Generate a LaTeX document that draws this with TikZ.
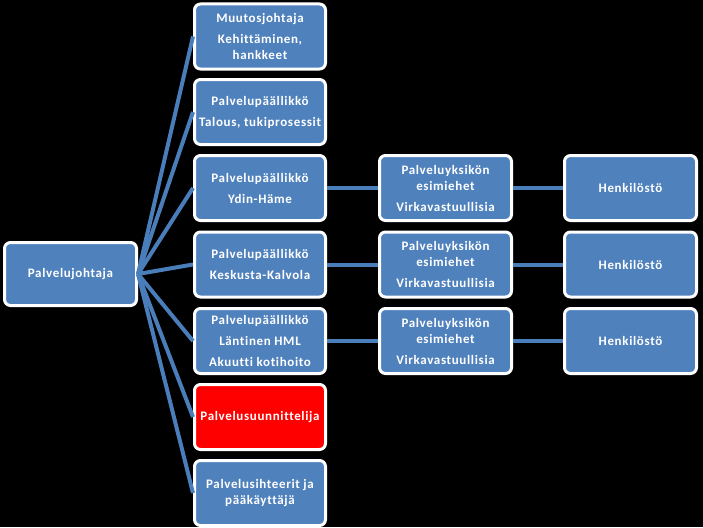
\documentclass[tikz,border=0pt]{standalone}
\usepackage{fontspec}
\setmainfont{Carlito}[Ligatures=NoCommon]
\begin{document}
\begin{tikzpicture}[x=1pt,y=-1pt,
  box/.style={draw=white,line width=3pt,fill=boxblue,rounded corners=6pt,
    minimum width=131pt,minimum height=65pt,align=center,text=white,
    font=\bfseries\fontsize{13}{16}\selectfont\addfontfeature{LetterSpace=5},inner sep=2pt},
  link/.style={draw=lineblue,line width=4pt}]
\definecolor{boxblue}{HTML}{4F81BD}
\definecolor{lineblue}{HTML}{4A7EBB}
\fill[black] (0,0) rectangle (703,527);
\useasboundingbox (0,0) rectangle (703,527);

\node[box,minimum width=132pt,minimum height=63pt] (johtaja) at (70.5,274) {Palvelujohtaja};

\node[box] (muutos) at (260,36.5) {Muutosjohtaja\\[5pt]Kehittäminen,\\hankkeet};
\node[box] (talous) at (260,112) {Palvelupäällikkö\\[5pt]Talous, tukiprosessit};
\node[box] (ydin) at (260,188) {Palvelupäällikkö\\[5pt]Ydin-Häme};
\node[box] (keskusta) at (260,264.5) {Palvelupäällikkö\\[5pt]Keskusta-Kalvola};
\node[box] (lantinen) at (260,341) {Palvelupäällikkö\\[5pt]Läntinen HML\\[5pt]Akuutti kotihoito};
\node[box,fill=red] (suunnittelija) at (260,417) {Palvelusuunnittelija};
\node[box] (sihteerit) at (260,493) {Palvelusihteerit ja\\pääkäyttäjä};

\node[box,minimum width=132pt] (esim1) at (445.5,188) {Palveluyksikön\\esimiehet\\[5pt]Virkavastuullisia};
\node[box,minimum width=132pt] (esim2) at (445.5,264.5) {Palveluyksikön\\esimiehet\\[5pt]Virkavastuullisia};
\node[box,minimum width=132pt] (esim3) at (445.5,341) {Palveluyksikön\\esimiehet\\[5pt]Virkavastuullisia};

\node[box,minimum width=132pt] (henk1) at (630.5,188) {Henkilöstö};
\node[box,minimum width=132pt] (henk2) at (630.5,264.5) {Henkilöstö};
\node[box,minimum width=132pt] (henk3) at (630.5,341) {Henkilöstö};

% fan from the director
\foreach \n in {muutos,talous,ydin,keskusta,lantinen,suunnittelija,sihteerit}
  \draw[link] (johtaja.east) -- (\n.west);

% rows to the right
\draw[link] (ydin.east) -- (esim1.west);
\draw[link] (keskusta.east) -- (esim2.west);
\draw[link] (lantinen.east) -- (esim3.west);
\draw[link] (esim1.east) -- (henk1.west);
\draw[link] (esim2.east) -- (henk2.west);
\draw[link] (esim3.east) -- (henk3.west);
\end{tikzpicture}
\end{document}
